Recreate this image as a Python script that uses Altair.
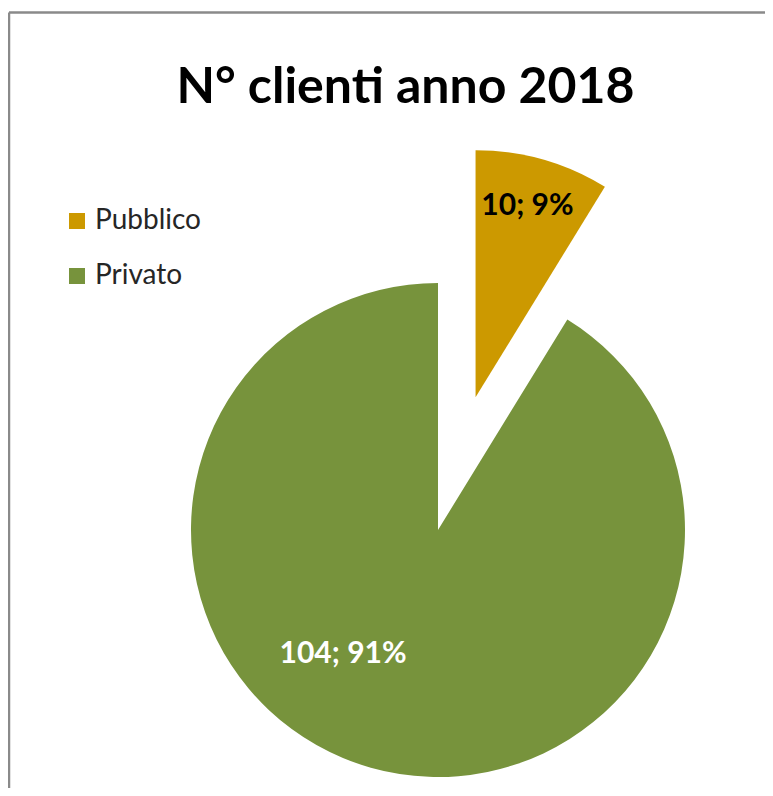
import altair as alt
import pandas as pd

# ---- data ----
categories = ["Pubblico", "Privato"]
values = [10, 104]
title_text = "N° clienti anno 2018"

# ---- style ----
colors = {"Pubblico": "#CC9900", "Privato": "#77933C"}
label_colors = {"Pubblico": "#000000", "Privato": "#FFFFFF"}
explode_px = {"Pubblico": 138, "Privato": 0}
label_radius = {"Pubblico": 198, "Privato": 156}
label_angle_deg = {"Pubblico": 15.2, "Privato": 217.5}
W, H = 757, 780
CX, CY, R = 430, 522, 247
FONT = "Lato"

df = pd.DataFrame({
    "category": categories,
    "value": values,
    "idx": list(range(len(categories))),
    "explode": [explode_px[c] for c in categories],
    "lr": [label_radius[c] for c in categories],
    "la": [label_angle_deg[c] for c in categories],
    "lcolor": [label_colors[c] for c in categories],
})

base = (
    alt.Chart(df)
    .transform_joinaggregate(total="sum(value)")
    .transform_window(cum="sum(value)", sort=[alt.SortField("idx")], frame=[None, 0])
    .transform_calculate(
        mid="2*PI*(datum.cum - datum.value/2)/datum.total",
        pct="round(100*datum.value/datum.total)",
    )
    .transform_calculate(
        px=f"{CX} + datum.explode*sin(datum.mid)",
        py=f"{CY} - datum.explode*cos(datum.mid)",
        label="datum.value + '; ' + datum.pct + '%'",
    )
    .transform_calculate(
        lx="datum.px + datum.lr*sin(datum.la*PI/180)",
        ly="datum.py - datum.lr*cos(datum.la*PI/180)",
    )
)

arcs = base.mark_arc(radius=R, stroke=None).encode(
    theta=alt.Theta("value:Q", stack=True),
    order=alt.Order("idx:Q"),
    x=alt.X("px:Q", scale=None, axis=None),
    y=alt.Y("py:Q", scale=None, axis=None),
    color=alt.Color(
        "category:N",
        scale=alt.Scale(domain=categories, range=[colors[c] for c in categories]),
        sort=categories,
        legend=alt.Legend(
            orient="none", legendX=55, legendY=199, title=None,
            symbolType="square", symbolSize=256, symbolStrokeWidth=0,
            labelFont=FONT, labelFontSize=28, labelColor="#262626",
            rowPadding=27, labelOffset=4, padding=0,
        ),
    ),
)

labels = base.mark_text(font=FONT, fontSize=30, fontWeight="bold", baseline="middle", align="center").encode(
    x=alt.X("lx:Q", scale=None, axis=None),
    y=alt.Y("ly:Q", scale=None, axis=None),
    text="label:N",
    fill=alt.Fill("lcolor:N", scale=None, legend=None),
)

title = alt.Chart(pd.DataFrame({"t": [title_text]})).mark_text(
    font=FONT, fontSize=50, fontWeight="bold", color="#000000", align="center", baseline="alphabetic"
).encode(x=alt.value(397.5), y=alt.value(95), text="t:N")

border_left = alt.Chart(pd.DataFrame({"a": [0]})).mark_rule(color="#8a8a8a", strokeWidth=2.5).encode(
    x=alt.value(1), y=alt.value(4.5), y2=alt.value(H)
)
border_top = alt.Chart(pd.DataFrame({"a": [0]})).mark_rule(color="#8a8a8a", strokeWidth=2.5).encode(
    x=alt.value(1), x2=alt.value(W), y=alt.value(4.5)
)

chart = (
    alt.layer(border_left, border_top, arcs, labels, title)
    .properties(width=W, height=H, autosize=alt.AutoSizeParams(type="none"), padding=0)
    .configure_view(stroke=None)
)

chart.save("out.html", embed_options={"renderer": "svg", "actions": False})
